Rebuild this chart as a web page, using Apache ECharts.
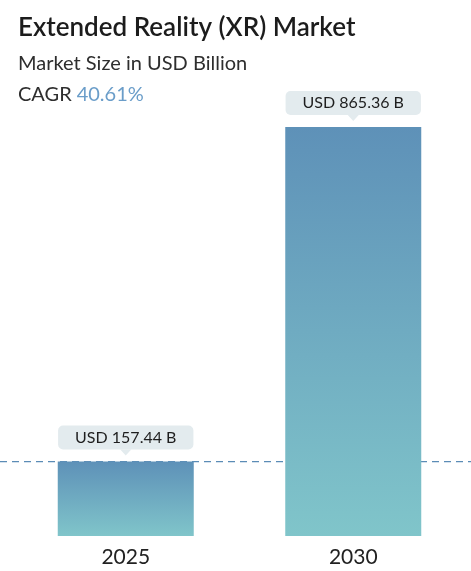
<!DOCTYPE html>
<html>
<head>
<meta charset="utf-8">
<script src="https://cdn.jsdelivr.net/npm/echarts@6/dist/echarts.min.js"></script>
<style>
  html, body { margin: 0; padding: 0; background: #fff; }
  #chart { width: 471px; height: 571px; }
</style>
</head>
<body>
<div id="chart"></div>
<script>
const years = ['2025', '2030'];
const marketSize = [157.44, 865.36];
const cagr = '40.61%';

const FONT = 'Lato, "Noto Sans", sans-serif';

document.addEventListener('DOMContentLoaded', () => {
    let chart = echarts.init(document.getElementById('chart'));

    let option = {
        animation: false,
        title: [
            {
                text: 'Extended Reality (XR) Market',
                left: 13,
                top: 10,
                textStyle: { fontFamily: FONT, fontSize: 26, fontWeight: 600, color: '#1c1c1c' }
            },
            {
                text: 'Market Size in USD Billion',
                left: 13,
                top: 49,
                textStyle: { fontFamily: FONT, fontSize: 20, fontWeight: 400, color: '#2e2e2e' }
            },
            {
                text: '{a|CAGR} {b|' + cagr + '}',
                left: 13,
                top: 80,
                textStyle: {
                    fontWeight: 'normal',
                    rich: {
                        a: { fontFamily: FONT, fontSize: 20, fontWeight: 'normal', color: '#2e2e2e' },
                        b: { fontFamily: FONT, fontSize: 20, fontWeight: 'normal', color: '#6a9dc9' }
                    }
                }
            }
        ],
        grid: [
            { left: 12, right: 4, top: 127, bottom: 35 },
            { left: 0, right: 0, top: 127, bottom: 35 }
        ],
        xAxis: [
            {
                type: 'category',
                data: years,
                gridIndex: 0,
                axisLine: { show: false },
                axisTick: { show: false },
                axisLabel: {
                    fontFamily: FONT,
                    fontSize: 21,
                    color: '#222',
                    margin: 11
                }
            },
            { type: 'value', gridIndex: 1, min: 0, max: 1, show: false }
        ],
        yAxis: [
            { type: 'value', gridIndex: 0, min: 0, max: marketSize[1], show: false },
            { type: 'value', gridIndex: 1, min: 0, max: marketSize[1], show: false }
        ],
        series: [
            {
                // dashed reference line at the 2025 value, full width, behind bars
                type: 'line',
                xAxisIndex: 1,
                yAxisIndex: 1,
                silent: true,
                symbol: 'none',
                z: 1,
                lineStyle: { color: '#5b8cb6', type: [7, 5], width: 1.3 },
                data: [[0, marketSize[0]], [1, marketSize[0]]]
            },
            {
                type: 'bar',
                data: marketSize,
                barWidth: 136,
                z: 3,
                itemStyle: {
                    color: new echarts.graphic.LinearGradient(0, 0, 0, 1, [
                        { offset: 0, color: '#5e91b8' },
                        { offset: 1, color: '#80c5ca' }
                    ])
                },
                label: {
                    show: true,
                    position: 'top',
                    distance: 12,
                    formatter: (p) => 'USD ' + p.value.toFixed(2) + ' B',
                    fontFamily: FONT,
                    fontSize: 16,
                    color: '#1e1e1e',
                    backgroundColor: '#e3ebee',
                    borderRadius: 5,
                    padding: [4, 17, 4, 17]
                },
                markPoint: {
                    symbol: 'triangle',
                    symbolSize: [11, 6],
                    symbolRotate: 180,
                    symbolOffset: [0, -9],
                    itemStyle: { color: '#e3ebee' },
                    label: { show: false },
                    data: years.map((y, i) => ({ coord: [y, marketSize[i]] }))
                }
            }
        ]
    };

    chart.setOption(option);
});
</script>
</body>
</html>
